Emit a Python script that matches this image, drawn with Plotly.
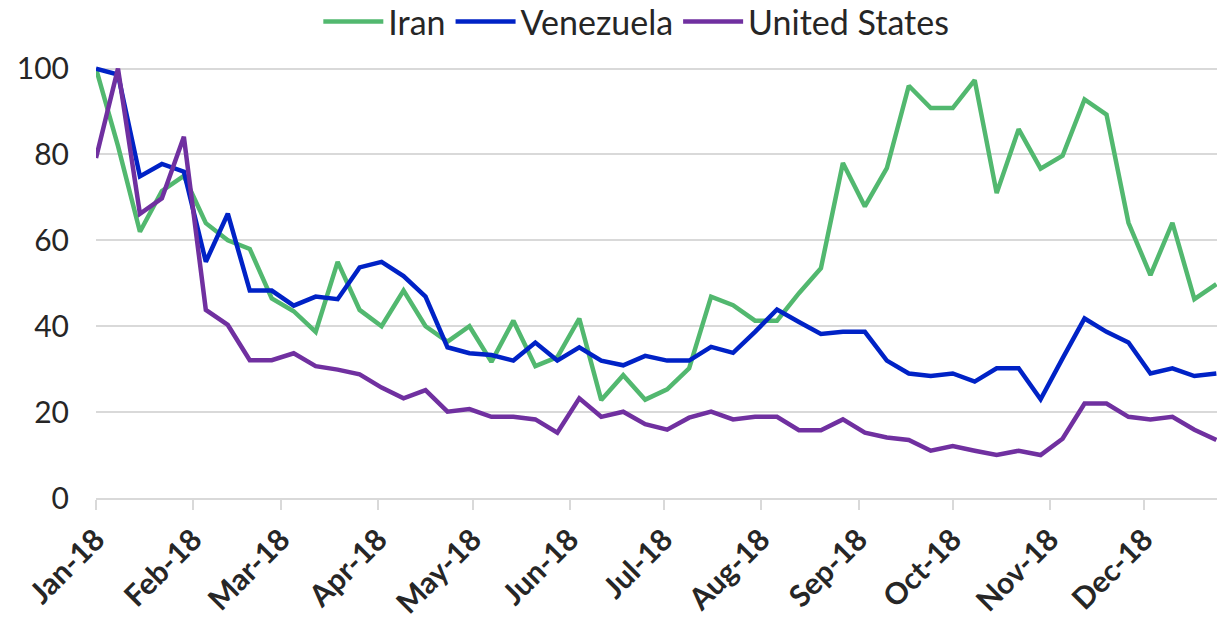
import pandas as pd
import plotly.graph_objects as go

# Weekly index values (first week of 2018 = 100)
weeks = pd.date_range("2018-01-01", periods=52, freq="7D")

iran = [100, 82, 62, 71.5, 75, 64, 60, 58, 46.5, 43.5,
        38.7, 55, 43.8, 40, 48.3, 40, 36.4, 40, 31.7, 41.3,
        30.7, 32.8, 41.8, 22.8, 28.6, 22.9, 25.3, 30.2, 46.9, 44.9,
        41.3, 41.3, 47.7, 53.5, 78, 67.9, 76.8, 96, 90.8, 90.8,
        97.3, 71, 85.9, 76.7, 79.7, 92.8, 89.3, 64.1, 51.9, 64.1,
        46.3, 49.8]

venezuela = [100, 98.6, 74.9, 77.8, 76, 55, 66.2, 48.3, 48.3, 44.8,
             46.9, 46.3, 53.7, 55, 51.7, 46.9, 35.1, 33.7, 33.3, 32,
             36.2, 32, 35.1, 32, 30.9, 33.1, 32, 32, 35.2, 33.8,
             38.7, 43.9, 41, 38.2, 38.7, 38.7, 32, 29, 28.4, 29,
             27.1, 30.2, 30.2, 23, 32.5, 41.8, 38.7, 36.2, 29, 30.2,
             28.4, 29]

united_states = [79.2, 100, 66.2, 69.8, 84.1, 43.8, 40.3, 32.1, 32.1, 33.7,
                 30.7, 29.9, 28.8, 25.7, 23.2, 25.1, 20.1, 20.7, 18.9, 18.9,
                 18.3, 15.2, 23.2, 18.9, 20.1, 17.2, 15.9, 18.7, 20.1, 18.3,
                 18.9, 18.9, 15.8, 15.8, 18.3, 15.2, 14.1, 13.5, 11, 12.1,
                 11, 10, 11, 10, 13.8, 22, 22, 18.9, 18.3, 18.9,
                 15.9, 13.5]

month_ticks = pd.date_range("2018-01-01", periods=12, freq="MS")

series = [
    ("Iran", iran, "#52b86f"),
    ("Venezuela", venezuela, "#0022c6"),
    ("United States", united_states, "#7030a0"),
]

FONT = "Lato"
TEXT = "#262626"
GRID = "#d9d9d9"

fig = go.Figure()
for name, vals, color in series:
    fig.add_trace(go.Scatter(
        x=weeks, y=vals, name=name, mode="lines",
        line=dict(color=color, width=4.5),
    ))

fig.update_layout(
    width=1217, height=624,
    margin=dict(l=96, r=0, t=60.4, b=126.3),
    paper_bgcolor="white", plot_bgcolor="white",
    font=dict(family=FONT, color=TEXT, size=30),
    showlegend=True,
    legend=dict(
        orientation="h",
        x=0.482, xanchor="center",
        yref="container", y=0.965, yanchor="middle",
        font=dict(size=34, color=TEXT),
        itemwidth=60,
        bgcolor="rgba(0,0,0,0)",
    ),
)

fig.update_xaxes(
    type="date",
    range=["2018-01-01", "2018-12-24 05:00"],
    tickvals=month_ticks,
    tickformat="%b-%y",
    tickangle=-45,
    tickfont=dict(size=30, family=FONT, weight="bold", color=TEXT),
    ticks="outside", ticklen=10, tickwidth=2, tickcolor=GRID,
    showline=True, linecolor=GRID, linewidth=2,
    showgrid=False, zeroline=False,
    automargin=False,
)

fig.update_yaxes(
    range=[0, 102],
    tickvals=[0, 20, 40, 60, 80, 100],
    tickfont=dict(size=30, family=FONT, color=TEXT),
    showgrid=True, gridcolor=GRID, gridwidth=2,
    zeroline=False, showline=False,
    ticklabelstandoff=26,
    automargin=False,
)

fig.write_html("out.html")
